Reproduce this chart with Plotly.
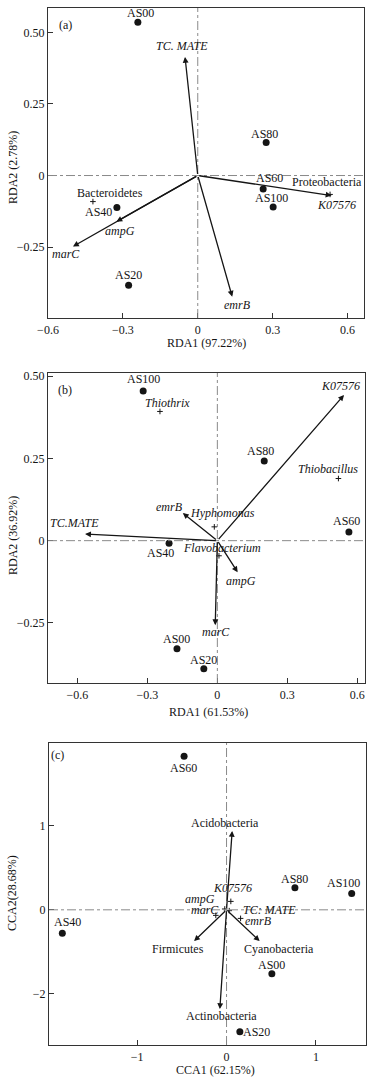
import plotly.graph_objects as go

W, H = 381, 1081
FONT = "Liberation Serif, Times New Roman, serif"
INK = "#151515"

# ---------------- Panel (a) data ----------------
a_sites = ["AS00", "AS20", "AS40", "AS60", "AS80", "AS100"]
a_site_x = [-0.240, -0.277, -0.324, 0.262, 0.274, 0.302]
a_site_y = [0.535, -0.383, -0.112, -0.047, 0.115, -0.110]
a_species = ["Bacteroidetes", "Proteobacteria"]
a_species_x = [-0.420, 0.530]
a_species_y = [-0.091, -0.066]
a_vectors = ["TC. MATE", "K07576", "ampG", "marC", "emrB"]
a_vector_x = [-0.051, 0.536, -0.326, -0.500, 0.138]
a_vector_y = [0.414, -0.070, -0.161, -0.248, -0.423]

# ---------------- Panel (b) data ----------------
b_sites = ["AS00", "AS20", "AS40", "AS60", "AS80", "AS100"]
b_site_x = [-0.173, -0.058, -0.207, 0.564, 0.201, -0.318]
b_site_y = [-0.329, -0.390, -0.008, 0.026, 0.242, 0.455]
b_species = ["Thiothrix", "Thiobacillus", "Hyphomonas", "Flavobacterium"]
b_species_x = [-0.246, 0.519, -0.013, 0.007]
b_species_y = [0.393, 0.189, 0.042, -0.046]
b_vectors = ["K07576", "emrB", "TC.MATE", "ampG", "marC"]
b_vector_x = [0.543, -0.148, -0.567, 0.087, -0.009]
b_vector_y = [0.443, 0.084, 0.020, -0.096, -0.257]

# ---------------- Panel (c) data ----------------
c_sites = ["AS00", "AS20", "AS40", "AS60", "AS80", "AS100"]
c_site_x = [0.507, 0.149, -1.837, -0.475, 0.765, 1.400]
c_site_y = [-0.760, -1.449, -0.280, 1.825, 0.261, 0.195]
c_species = ["K07576", "ampG", "marC", "TC: MATE", "emrB"]
c_species_x = [0.048, -0.020, -0.120, 0.030, 0.157]
c_species_y = [0.100, 0.010, -0.066, -0.010, -0.102]
c_vectors = ["Acidobacteria", "Firmicutes", "Cyanobacteria", "Actinobacteria"]
c_vector_x = [0.063, -0.363, 0.370, -0.075]
c_vector_y = [0.938, -0.372, -0.372, -1.180]

# tick labels
a_xticks = [-0.6, -0.3, 0, 0.3, 0.6]
a_xtext = ["\u22120.6", "\u22120.3", "0", "0.3", "0.6"]
a_yticks = [-0.25, 0, 0.25, 0.5]
a_ytext = ["\u22120.25", "0", "0.25", "0.50"]
b_xticks = [-0.6, -0.3, 0, 0.3, 0.6]
b_xtext = ["\u22120.6", "\u22120.3", "0", "0.3", "0.6"]
b_yticks = [-0.25, 0, 0.25, 0.5]
b_ytext = ["\u22120.25", "0", "0.25", "0.50"]
c_xticks = [-1, 0, 1]
c_xtext = ["\u22121", "0", "1"]
c_yticks = [1, 0, -1]
c_ytext = ["1", "0", "\u22122"]

# ---------------- styling (label offsets in px: dx, dy) ----------------
panels = [
    dict(tag="(a)", xa="x", ya="y",
         sites=a_sites, sx=a_site_x, sy=a_site_y,
         spp=a_species, px=a_species_x, py=a_species_y,
         vec=a_vectors, vx=a_vector_x, vy=a_vector_y,
         vec_italic=True, spp_italic=False,
         xr=[-0.6, 0.666], yr=[-0.4975, 0.585],
         xt=a_xticks, xtt=a_xtext, yt=a_yticks, ytt=a_ytext,
         pix=(48, 364, 8, 318),
         xtitle="RDA1 (97.22%)", ytitle="RDA2 (2.78%)",
         xtitle_pos=(206, 343), ytitle_pos=(13, 168), tag_pos=(65, 25),
         site_off={"AS00": (3, 9), "AS20": (0, 10), "AS40": (-18, -4), "AS60": (6, 11),
                   "AS80": (-2, 9), "AS100": (-2, 9)},
         spp_off={"Bacteroidetes": (17, 9), "Proteobacteria": (-3, 12)},
         vec_off={"TC. MATE": (-3, 11), "K07576": (5, -9), "ampG": (4, -9),
                  "marC": (-7, -7), "emrB": (5, -8)}),
    dict(tag="(b)", xa="x2", ya="y2",
         sites=b_sites, sx=b_site_x, sy=b_site_y,
         spp=b_species, px=b_species_x, py=b_species_y,
         vec=b_vectors, vx=b_vector_x, vy=b_vector_y,
         vec_italic=True, spp_italic=True,
         xr=[-0.726, 0.633], yr=[-0.433, 0.51],
         xt=b_xticks, xtt=b_xtext, yt=b_yticks, ytt=b_ytext,
         pix=(48, 365, 373, 683),
         xtitle="RDA1 (61.53%)", ytitle="RDA2 (36.92%)",
         xtitle_pos=(208, 712), ytitle_pos=(13, 536), tag_pos=(65, 390),
         site_off={"AS00": (0, 10), "AS20": (0, 9), "AS40": (-9, -10), "AS60": (-2, 11),
                   "AS80": (-4, 10), "AS100": (0, 12)},
         spp_off={"Thiothrix": (8, 8), "Thiobacillus": (-10, 10), "Hyphomonas": (8, 14),
                  "Flavobacterium": (3, 8)},
         vec_off={"K07576": (-4, 9), "emrB": (-13, 6), "TC.MATE": (-11, 11),
                  "ampG": (3, -9), "marC": (1, -7)}),
    dict(tag="(c)", xa="x3", ya="y3",
         sites=c_sites, sx=c_site_x, sy=c_site_y,
         spp=c_species, px=c_species_x, py=c_species_y,
         vec=c_vectors, vx=c_vector_x, vy=c_vector_y,
         vec_italic=False, spp_italic=True,
         xr=[-1.986, 1.56], yr=[-1.607, 1.983],
         xt=c_xticks, xtt=c_xtext, yt=c_yticks, ytt=c_ytext,
         pix=(49, 366, 743, 1045),
         xtitle="CCA1 (62.15%)", ytitle="CCA2(28.68%)",
         xtitle_pos=(215, 1070), ytitle_pos=(12, 893), tag_pos=(57, 755),
         site_off={"AS00": (0, 9), "AS20": (17, 0), "AS40": (5, 11), "AS60": (-1, -12),
                   "AS80": (0, 9), "AS100": (-8, 10)},
         spp_off={"K07576": (2, 13), "ampG": (-25, 10), "marC": (-11, 5),
                  "TC: MATE": (40, 1), "emrB": (18, -3)},
         vec_off={"Acidobacteria": (-7, 8), "Firmicutes": (-16, -8),
                  "Cyanobacteria": (19, -8), "Actinobacteria": (2, -7)}),
]

fig = go.Figure()
annotations = []
shapes = []
layout_axes = {}


def it(s, flag):
    return f"<i>{s}</i>" if flag else s


for i, p in enumerate(panels):
    n = "" if i == 0 else str(i + 1)
    x0, x1, y0, y1 = p["pix"]
    xdom = [x0 / W, x1 / W]
    ydom = [1 - y1 / H, 1 - y0 / H]
    common = dict(showline=True, mirror=True, linecolor="#333", linewidth=1.2,
                  showgrid=False, zeroline=False, ticks="inside", ticklen=5,
                  tickcolor="#333", tickwidth=1, automargin=False,
                  tickfont=dict(family=FONT, size=12, color=INK))
    layout_axes["xaxis" + n] = dict(domain=xdom, range=p["xr"], anchor="y" + n,
                                    tickmode="array", tickvals=p["xt"], ticktext=p["xtt"],
                                    **common)
    layout_axes["yaxis" + n] = dict(domain=ydom, range=p["yr"], anchor="x" + n,
                                    tickmode="array", tickvals=p["yt"], ticktext=p["ytt"],
                                    **common)

    # reference dash-dot lines through origin
    shapes.append(dict(type="line", xref=p["xa"] + " domain", yref=p["ya"],
                       x0=0, x1=1, y0=0, y1=0,
                       line=dict(color="#8a8a8a", width=1, dash="dashdot")))
    shapes.append(dict(type="line", xref=p["xa"], yref=p["ya"] + " domain",
                       x0=0, x1=0, y0=0, y1=1,
                       line=dict(color="#8a8a8a", width=1, dash="dashdot")))

    # site points
    fig.add_trace(go.Scatter(x=p["sx"], y=p["sy"], mode="markers", xaxis=p["xa"], yaxis=p["ya"],
                             marker=dict(color=INK, size=7), showlegend=False,
                             hoverinfo="skip"))
    # species points
    fig.add_trace(go.Scatter(x=p["px"], y=p["py"], mode="markers", xaxis=p["xa"], yaxis=p["ya"],
                             marker=dict(color=INK, size=4, symbol="cross-thin-open",
                                         line=dict(color=INK, width=1)),
                             showlegend=False, hoverinfo="skip"))

    # arrows
    for name, vx, vy in zip(p["vec"], p["vx"], p["vy"]):
        annotations.append(dict(x=vx, y=vy, ax=0, ay=0, xref=p["xa"], yref=p["ya"],
                                axref=p["xa"], ayref=p["ya"], text="", showarrow=True,
                                arrowhead=2, arrowsize=0.9, arrowwidth=1.3,
                                arrowcolor=INK, standoff=0, startstandoff=0))

    lab_font = dict(family=FONT, size=12, color=INK)

    def add_label(txt, x, y, off):
        annotations.append(dict(x=x, y=y, xref=p["xa"], yref=p["ya"], text=txt,
                                showarrow=False, xshift=off[0], yshift=off[1],
                                xanchor="center", yanchor="middle", font=lab_font))

    for name, x, y in zip(p["sites"], p["sx"], p["sy"]):
        add_label(name, x, y, p["site_off"][name])
    for name, x, y in zip(p["spp"], p["px"], p["py"]):
        add_label(it(name, p["spp_italic"]), x, y, p["spp_off"][name])
    for name, x, y in zip(p["vec"], p["vx"], p["vy"]):
        add_label(it(name, p["vec_italic"]), x, y, p["vec_off"][name])

    # panel tag and axis titles
    tx, ty = p["tag_pos"]
    annotations.append(dict(x=tx / W, y=1 - ty / H, xref="paper", yref="paper", text=p["tag"],
                            showarrow=False, xanchor="center", yanchor="middle", font=lab_font))
    tx, ty = p["xtitle_pos"]
    annotations.append(dict(x=tx / W, y=1 - ty / H, xref="paper", yref="paper", text=p["xtitle"],
                            showarrow=False, xanchor="center", yanchor="middle", font=lab_font))
    tx, ty = p["ytitle_pos"]
    annotations.append(dict(x=tx / W, y=1 - ty / H, xref="paper", yref="paper", text=p["ytitle"],
                            showarrow=False, xanchor="center", yanchor="middle", textangle=-90,
                            font=lab_font))

fig.update_layout(width=W, height=H, margin=dict(l=0, r=0, t=0, b=0, autoexpand=False),
                  paper_bgcolor="white", plot_bgcolor="white",
                  annotations=annotations, shapes=shapes, **layout_axes)

fig.write_html("out.html",
               config={"displayModeBar": False},
               post_script="document.body.style.margin='0px';"
                           "document.body.style.overflow='hidden';")
